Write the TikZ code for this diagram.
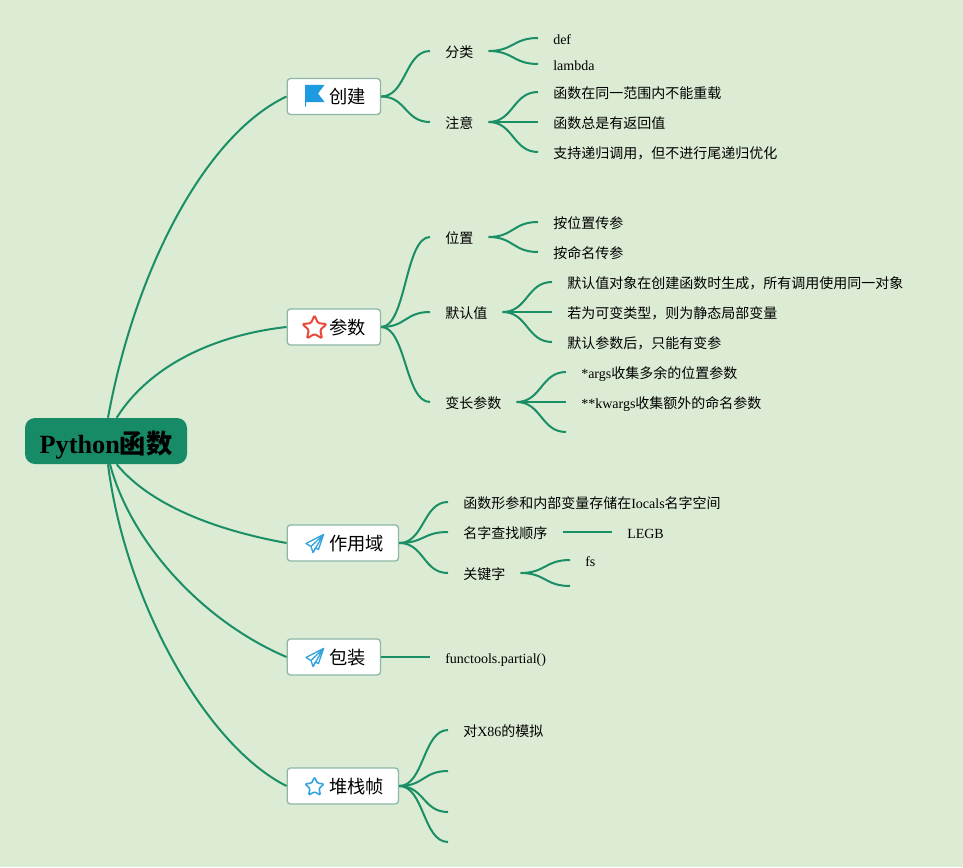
\documentclass[tikz,border=0pt]{standalone}
\usepackage{fontspec}
\setmainfont{Liberation Serif}
\newfontfamily\cj{Noto Sans CJK SC}
\newcommand{\C}[1]{{\cj #1}}
\newcommand{\lnk}[2]{\draw[wire] (#1) .. controls +(25,0) and +(-25,0) .. (#2);}
\newcommand{\ttl}[1]{\hspace*{31.5pt}\C{#1}}
\usetikzlibrary{shapes.geometric}
\definecolor{bgc}{HTML}{DCEBD3}
\definecolor{linec}{HTML}{1A8F66}
\definecolor{rootc}{HTML}{178A68}
\definecolor{boxline}{HTML}{8DB8A6}
\definecolor{flagc}{HTML}{1E9BE0}
\definecolor{redstar}{HTML}{E8493A}
\definecolor{bluec}{HTML}{35A3DE}
\tikzset{
 x=0.75pt,y=-0.75pt,
 rootbox/.style={fill=rootc,rounded corners=7.5pt,inner sep=0pt,minimum width=121.5pt,minimum height=34.5pt,text height=18pt,text depth=0pt,font=\fontsize{19.7}{24}\selectfont\bfseries},
 topic/.style={draw=boxline,fill=white,line width=1pt,rounded corners=2.5pt,anchor=west,inner xsep=0pt,inner ysep=0pt,minimum height=27pt,text height=11pt,text depth=0pt,align=left,font=\fontsize{13.7}{17}\selectfont},
 leaf/.style={anchor=west,inner xsep=11.25pt,inner ysep=0pt,text height=11pt,text depth=1pt,font=\fontsize{10.5}{13}\selectfont},
 cn/.style={font=\fontsize{10.5}{13}\selectfont\cj},
 wire/.style={draw=linec,line width=1.5pt},
}
\begin{document}
\begin{tikzpicture}
\useasboundingbox (0,0) rectangle (963,867);
\fill[bgc] (0,0) rectangle (963,867);

% root and main topics
\node[rootbox] (root) at (106,441) {Python\C{函数}};
\node[topic,text width=70pt] (t1) at (286.5,96.5) {\ttl{创建}};
\node[topic,text width=70pt] (t2) at (286.5,327) {\ttl{参数}};
\node[topic,text width=83.5pt] (t3) at (286.5,543) {\ttl{作用域}};
\node[topic,text width=70pt] (t4) at (286.5,657) {\ttl{包装}};
\node[topic,text width=83.5pt] (t5) at (286.5,786) {\ttl{堆栈帧}};

% root connectors
\draw[wire] ([xshift=1.5pt]root.north) .. controls (135,270) and (205,135) .. (t1.west);
\draw[wire] ([xshift=8pt]root.north) .. controls (150,365) and (215,335) .. (t2.west);
\draw[wire] ([xshift=8pt]root.south) .. controls (150,505) and (215,530) .. (t3.west);
\draw[wire] ([xshift=3pt]root.south) .. controls (130,540) and (200,620) .. (t4.west);
\draw[wire] ([xshift=1.5pt]root.south) .. controls (125,600) and (205,745) .. (t5.west);

% branch 1
\node[leaf,cn] (a1) at (430,51) {分类};
\node[leaf,cn] (a2) at (430,122) {注意};
\node[leaf] (a11) at (538,38) {def};
\node[leaf] (a12) at (538,64) {lambda};
\node[leaf,cn] (a21) at (538,92) {函数在同一范围内不能重载};
\node[leaf,cn] (a22) at (538,122) {函数总是有返回值};
\node[leaf,cn] (a23) at (538,152) {支持递归调用，但不进行尾递归优化};
\lnk{t1.east}{a1.west}
\lnk{t1.east}{a2.west}
\lnk{a1.east}{a11.west}
\lnk{a1.east}{a12.west}
\lnk{a2.east}{a21.west}
\lnk{a2.east}{a22.west}
\lnk{a2.east}{a23.west}

% branch 2
\node[leaf,cn] (b1) at (430,237) {位置};
\node[leaf,cn] (b2) at (430,312) {默认值};
\node[leaf,cn] (b3) at (430,402) {变长参数};
\node[leaf,cn] (b11) at (538,222) {按位置传参};
\node[leaf,cn] (b12) at (538,252) {按命名传参};
\node[leaf,cn] (b21) at (552,282) {默认值对象在创建函数时生成，所有调用使用同一对象};
\node[leaf,cn] (b22) at (552,312) {若为可变类型，则为静态局部变量};
\node[leaf,cn] (b23) at (552,342) {默认参数后，只能有变参};
\node[leaf] (b31) at (566,372) {*args\C{收集多余的位置参数}};
\node[leaf] (b32) at (566,402) {**kwargs\C{收集额外的命名参数}};
\coordinate (b33) at (566,432);
\lnk{t2.east}{b1.west}
\lnk{t2.east}{b2.west}
\lnk{t2.east}{b3.west}
\lnk{b1.east}{b11.west}
\lnk{b1.east}{b12.west}
\lnk{b2.east}{b21.west}
\lnk{b2.east}{b22.west}
\lnk{b2.east}{b23.west}
\lnk{b3.east}{b31.west}
\lnk{b3.east}{b32.west}
\lnk{b3.east}{b33}

% branch 3
\node[leaf] (c1) at (448,502) {\C{函数形参和内部变量存储在}Iocals\C{名字空间}};
\node[leaf,cn] (c2) at (448,532) {名字查找顺序};
\node[leaf,cn] (c3) at (448,573) {关键字};
\node[leaf] (c21) at (612,532) {LEGB};
\node[leaf] (c31) at (570,560) {fs};
\coordinate (c32) at (570,586);
\lnk{t3.east}{c1.west}
\lnk{t3.east}{c2.west}
\lnk{t3.east}{c3.west}
\draw[wire] (c2.east) -- (c21.west);
\lnk{c3.east}{c31.west}
\lnk{c3.east}{c32}

% branch 4
\node[leaf] (d1) at (430,657) {functools.partial()};
\draw[wire] (t4.east) -- (d1.west);

% branch 5
\node[leaf] (e1) at (448,730) {\C{对}X86\C{的模拟}};
\coordinate (e2) at (448,771);
\coordinate (e3) at (448,812);
\coordinate (e4) at (448,842);
\lnk{t5.east}{e1.west}
\lnk{t5.east}{e2}
\lnk{t5.east}{e3}
\lnk{t5.east}{e4}

% icons
\fill[flagc] (305,85) -- (324.5,85) -- (318,93.5) -- (324.5,102) -- (306,102) -- (306,106.5) -- (305,106.5) -- cycle;
\node[star,star points=5,star point ratio=2.1,draw=redstar,line width=1.5pt,rounded corners=1pt,fill=white,minimum size=19pt,inner sep=0pt] (s1) at (314.5,328) {};
\node[star,star points=5,star point ratio=2.1,draw=bluec,line width=1.2pt,rounded corners=1pt,fill=white,minimum size=15pt,inner sep=0pt] (s2) at (314.5,787) {};
\foreach \yy in {543,657}{
 \draw[bluec,line width=1pt,line join=round,fill=white] (323.5,\yy-8.5) -- (306,\yy+0.5) -- (311,\yy+3.5) -- (313,\yy+9.5) -- (315.5,\yy+5) -- (318.5,\yy+6.5) -- cycle;
 \draw[bluec,line width=1pt,line join=round] (311,\yy+3.5) -- (323.5,\yy-8.5) -- (313,\yy+9.5);
}
\end{tikzpicture}
\end{document}
